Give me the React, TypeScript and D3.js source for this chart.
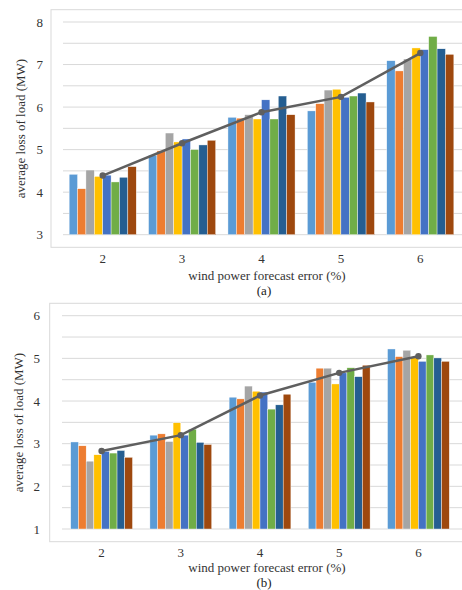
import React, { useEffect, useRef } from 'react';
import * as d3 from 'd3';

const categories = ['2', '3', '4', '5', '6'];
const seriesColors = ['#5B9BD5', '#ED7D31', '#A5A5A5', '#FFC000', '#4472C4', '#70AD47', '#255E91', '#9E480E'];

// panel (a): one row per series, one value per category
const barsA = [
  [4.42, 4.87, 5.76, 5.91, 7.09],
  [4.08, 4.97, 5.74, 6.08, 6.85],
  [4.52, 5.39, 5.82, 6.40, 7.13],
  [4.37, 5.18, 5.72, 6.42, 7.39],
  [4.40, 5.25, 6.17, 6.23, 7.35],
  [4.24, 5.00, 5.72, 6.26, 7.66],
  [4.35, 5.11, 6.26, 6.33, 7.37],
  [4.60, 5.22, 5.82, 6.12, 7.24],
];
const avgA = [4.39, 5.15, 5.88, 6.24, 7.27];

// panel (b)
const barsB = [
  [3.04, 3.20, 4.09, 4.44, 5.22],
  [2.95, 3.23, 4.05, 4.77, 5.04],
  [2.59, 3.05, 4.35, 4.77, 5.19],
  [2.74, 3.49, 4.23, 4.40, 5.03],
  [2.82, 3.20, 4.21, 4.66, 4.93],
  [2.78, 3.34, 3.81, 4.78, 5.08],
  [2.84, 3.03, 3.91, 4.57, 5.01],
  [2.68, 2.98, 4.16, 4.84, 4.93],
];
const avgB = [2.83, 3.20, 4.13, 4.66, 5.05];

const yTicksA = [3, 4, 5, 6, 7, 8];
const yTicksB = [1, 2, 3, 4, 5, 6];

const FONT = '"Liberation Serif", "Times New Roman", serif';

type Panel = {
  top: number; bottom: number; frameLeft: number; frameTop: number; frameBottom: number;
  left: number; right: number; domain: [number, number]; ticks: number[];
  bars: number[][]; avg: number[]; pad: number; tickRight: number; titleX: number;
  tickY: number; xTitleY: number; capY: number; caption: string;
};

export default function App() {
  const ref = useRef<SVGSVGElement>(null);

  useEffect(() => {
    const svg = d3.select(ref.current);
    svg.selectAll('*').remove();

    const panels: Panel[] = [
      {
        top: 22, bottom: 234.7, frameLeft: 51, frameTop: 9.7, frameBottom: 247.3,
        left: 63, right: 460, domain: [3, 8], ticks: yTicksA, bars: barsA, avg: avgA,
        pad: 0.155, tickRight: 43, titleX: 20, tickY: 258, xTitleY: 275, capY: 290, caption: '(a)',
      },
      {
        top: 315.7, bottom: 529, frameLeft: 49.7, frameTop: 303.3, frameBottom: 541.7,
        left: 62, right: 458, domain: [1, 6], ticks: yTicksB, bars: barsB, avg: avgB,
        pad: 0.22, tickRight: 40, titleX: 18, tickY: 552.7, xTitleY: 567.3, capY: 582.5, caption: '(b)',
      },
    ];

    panels.forEach(p => {
      const g = svg.append('g');
      const y = d3.scaleLinear().domain(p.domain).range([p.bottom, p.top]);
      const x = d3.scaleBand<string>().domain(categories).range([p.left, p.right])
        .paddingInner(p.pad).paddingOuter(p.pad / 2);
      const xs = d3.scaleBand<number>().domain(d3.range(seriesColors.length)).range([0, x.bandwidth()]);

      // frame
      g.append('rect')
        .attr('x', p.frameLeft).attr('y', p.frameTop)
        .attr('width', 480 - p.frameLeft).attr('height', p.frameBottom - p.frameTop)
        .attr('fill', '#fff').attr('stroke', '#d9d9d9').attr('stroke-width', 1);

      // gridlines every 0.5
      const grid = d3.range(p.domain[0], p.domain[1] + 0.01, 0.5);
      g.append('g').selectAll('line').data(grid).join('line')
        .attr('x1', p.left).attr('x2', 470)
        .attr('y1', d => y(d)).attr('y2', d => y(d))
        .attr('stroke', '#d9d9d9').attr('stroke-width', 1);

      // bars
      p.bars.forEach((vals, si) => {
        g.append('g').selectAll('rect').data(vals).join('rect')
          .attr('x', (_, i) => (x(categories[i]) ?? 0) + (xs(si) ?? 0))
          .attr('width', xs.bandwidth())
          .attr('y', d => y(d))
          .attr('height', d => p.bottom - y(d))
          .attr('fill', seriesColors[si])
          .attr('stroke', '#fff').attr('stroke-width', 0.4);
      });

      // average line
      const line = d3.line<number>()
        .x((_, i) => (x(categories[i]) ?? 0) + x.bandwidth() / 2)
        .y(d => y(d));
      g.append('path').datum(p.avg).attr('d', line)
        .attr('fill', 'none').attr('stroke', '#5f5f5f').attr('stroke-width', 2.5);
      g.append('g').selectAll('circle').data(p.avg).join('circle')
        .attr('cx', (_, i) => (x(categories[i]) ?? 0) + x.bandwidth() / 2)
        .attr('cy', d => y(d)).attr('r', 3.2).attr('fill', '#5f5f5f');

      // y tick labels
      g.append('g').selectAll('text').data(p.ticks).join('text')
        .attr('x', p.tickRight).attr('y', d => y(d)).attr('dy', '0.35em')
        .attr('text-anchor', 'end').attr('font-family', FONT).attr('font-size', 13)
        .attr('fill', '#333').text(d => d);

      // x tick labels
      g.append('g').selectAll('text').data(categories).join('text')
        .attr('x', d => (x(d) ?? 0) + x.bandwidth() / 2).attr('y', p.tickY).attr('dy', '0.35em')
        .attr('text-anchor', 'middle').attr('font-family', FONT).attr('font-size', 13)
        .attr('fill', '#333').text(d => d);

      // axis titles
      const midY = (p.frameTop + p.frameBottom) / 2;
      g.append('text')
        .attr('transform', `translate(${p.titleX},${midY}) rotate(-90)`)
        .attr('dy', '0.35em').attr('text-anchor', 'middle')
        .attr('font-family', FONT).attr('font-size', 13).attr('fill', '#333')
        .text('average loss of load (MW)');
      g.append('text')
        .attr('x', 267).attr('y', p.xTitleY).attr('dy', '0.35em').attr('text-anchor', 'middle')
        .attr('font-family', FONT).attr('font-size', 13).attr('fill', '#333')
        .text('wind power forecast error (%)');
      g.append('text')
        .attr('x', 264).attr('y', p.capY).attr('dy', '0.35em').attr('text-anchor', 'middle')
        .attr('font-family', FONT).attr('font-size', 13).attr('fill', '#222')
        .text(p.caption);
    });
  }, []);

  return (
    <svg
      ref={ref}
      width={462}
      height={590}
      style={{ position: 'absolute', left: 0, top: 0, background: '#fff' }}
    />
  );
}
